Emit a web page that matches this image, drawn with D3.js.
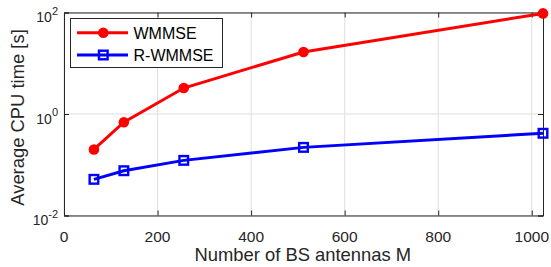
<!DOCTYPE html>
<html><head><meta charset="utf-8">
<script src="https://cdn.jsdelivr.net/npm/d3@7"></script>
<style>body{margin:0;background:#fff}svg{display:block}text{font-family:"Liberation Sans",Arial,sans-serif;fill:#262626}</style>
</head><body><svg id="c" width="551" height="267"></svg>
<script>
const antennas = [64, 128, 256, 512, 1024];
const wmmse = [0.2, 0.69, 3.25, 16.7, 96];
const rwmmse = [0.0516, 0.0763, 0.122, 0.22, 0.417];
const seriesNames = ["WMMSE", "R-WMMSE"];
const xTicks = [0, 200, 400, 600, 800, 1000];
const yTicks = [0.01, 1, 100];
const yTickExp = ["-2", "0", "2"];

const svg = d3.select("#c");
const L = 64, R = 543, T = 12.5, B = 215.5;
const x = d3.scaleLinear().domain([0, 1024]).range([L, R]);
const y = d3.scaleLog().domain([0.01, 100]).range([B, T]);
const axisCol = "#262626";

// grid
const g = svg.append("g");
g.selectAll(".gx").data(xTicks).enter().append("line")
  .attr("x1", d => x(d)).attr("x2", d => x(d)).attr("y1", T).attr("y2", B)
  .attr("stroke", "#dfdfdf").attr("stroke-width", 1);
g.selectAll(".gy").data(yTicks).enter().append("line")
  .attr("x1", L).attr("x2", R).attr("y1", d => y(d)).attr("y2", d => y(d))
  .attr("stroke", "#dfdfdf").attr("stroke-width", 1);

// axes
const xAx = svg.append("g").attr("transform", `translate(0,${B})`)
  .call(d3.axisBottom(x).tickValues(xTicks).tickSize(-5).tickFormat(""));
const xTop = svg.append("g").attr("transform", `translate(0,${T})`)
  .call(d3.axisTop(x).tickValues(xTicks).tickSize(-5).tickFormat(""));
const yAx = svg.append("g").attr("transform", `translate(${L},0)`)
  .call(d3.axisLeft(y).tickValues(yTicks).tickSize(-5).tickFormat(""));
const yR = svg.append("g").attr("transform", `translate(${R},0)`)
  .call(d3.axisRight(y).tickValues(yTicks).tickSize(-5).tickFormat(""));
[xAx, xTop, yAx, yR].forEach(a => {
  a.select(".domain").attr("stroke", axisCol).attr("stroke-width", 1);
  a.selectAll(".tick line").attr("stroke", axisCol);
});
svg.selectAll(".xl").data(xTicks).enter().append("text")
  .attr("x", d => x(d)).attr("y", B + 26).attr("text-anchor", "middle")
  .attr("font-size", 15.5).text(d => d3.format("d")(d));

// y tick labels with superscripts
yTicks.forEach((v, i) => {
  const t = svg.append("text").attr("x", L - 6).attr("y", y(v) + 9.5)
    .attr("text-anchor", "end").attr("font-size", 14);
  t.append("tspan").text("10");
  t.append("tspan").attr("dy", -7.5).attr("font-size", 11).text(yTickExp[i]);
});

// lines
const line = d3.line().x((d, i) => x(antennas[i])).y(d => y(d));
svg.append("path").datum(wmmse).attr("d", line).attr("fill", "none")
  .attr("stroke", "#ff0000").attr("stroke-width", 3);
svg.append("path").datum(rwmmse).attr("d", line).attr("fill", "none")
  .attr("stroke", "#0000ff").attr("stroke-width", 3);
svg.selectAll(".pr").data(wmmse).enter().append("circle")
  .attr("cx", (d, i) => x(antennas[i])).attr("cy", d => y(d)).attr("r", 5.3)
  .attr("fill", "#ff0000");
svg.selectAll(".pb").data(rwmmse).enter().append("rect")
  .attr("x", (d, i) => x(antennas[i]) - 4.3).attr("y", d => y(d) - 4.3)
  .attr("width", 8.6).attr("height", 8.6).attr("fill", "none")
  .attr("stroke", "#0000ff").attr("stroke-width", 2.4);

// legend
const lg = svg.append("g");
lg.append("rect").attr("x", 70.5).attr("y", 18.5).attr("width", 152).attr("height", 49)
  .attr("fill", "#fff").attr("stroke", axisCol).attr("stroke-width", 1);
const cols = ["#ff0000", "#0000ff"];
seriesNames.forEach((n, i) => {
  const yy = 32.7 + i * 22.3;
  lg.append("line").attr("x1", 77).attr("x2", 128).attr("y1", yy).attr("y2", yy)
    .attr("stroke", cols[i]).attr("stroke-width", 3);
  if (i === 0) lg.append("circle").attr("cx", 103.3).attr("cy", yy).attr("r", 5.3).attr("fill", cols[i]);
  else lg.append("rect").attr("x", 99).attr("y", yy - 4.3).attr("width", 8.6).attr("height", 8.6)
    .attr("fill", "none").attr("stroke", cols[i]).attr("stroke-width", 2.4);
  lg.append("text").attr("x", 133.5).attr("y", yy + 6.2).attr("font-size", 16).style("fill", "#000").text(n);
});

// axis titles
svg.append("text").attr("x", 302.8).attr("y", 260.5).attr("text-anchor", "middle")
  .attr("font-size", 18.4).text("Number of BS antennas M");
svg.append("text").attr("transform", `translate(24,117.5) rotate(-90)`)
  .attr("text-anchor", "middle").attr("font-size", 18.4).text("Average CPU time [s]");
</script></body></html>
